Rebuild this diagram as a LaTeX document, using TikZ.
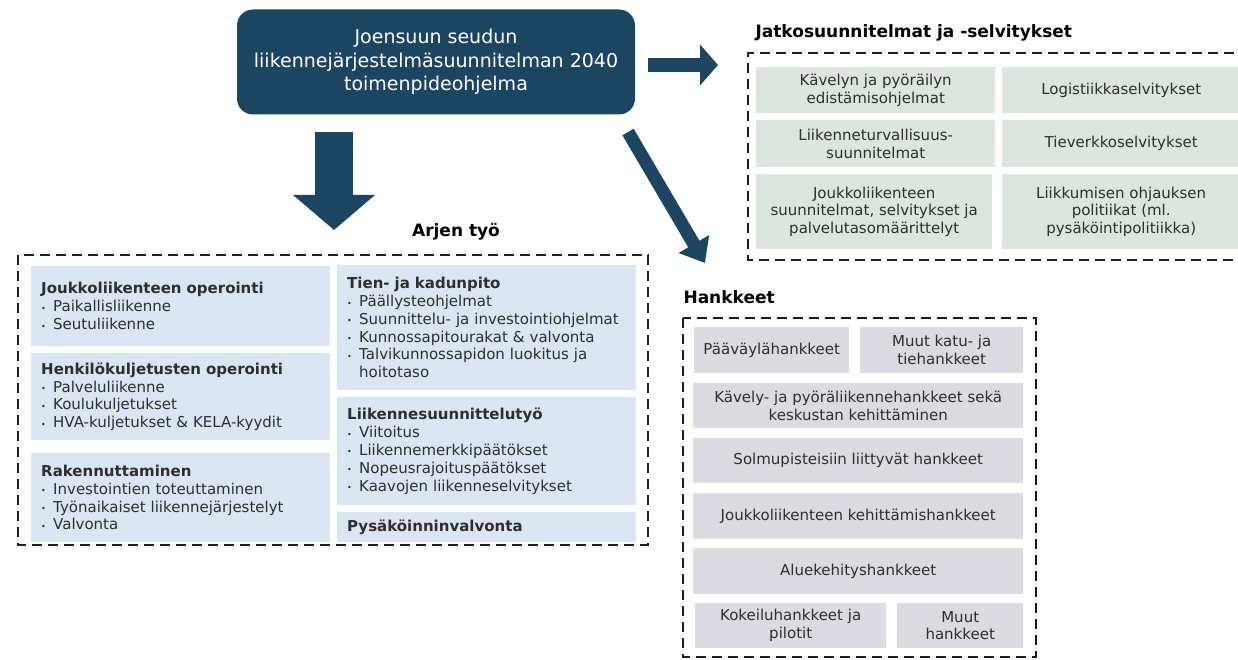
\documentclass[tikz,border=0pt]{standalone}
\usepackage{fontspec}
\setmainfont{DejaVu Sans}
\usetikzlibrary{arrows.meta}

\definecolor{darkblue}{HTML}{1B4560}
\definecolor{boxblue}{HTML}{DCE6F2}
\definecolor{boxgreen}{HTML}{DDE5DF}
\definecolor{boxgrey}{HTML}{DCDBE1}
\definecolor{txtgrey}{HTML}{2E2E2E}
\definecolor{dashgrey}{HTML}{1E1E1E}

\newcommand{\itm}{\makebox[12pt][l]{\raisebox{0.5pt}{\footnotesize\textbullet}}}
\newcommand{\ind}{\hspace*{12pt}}

\tikzset{
  topbox/.style={fill=darkblue, text=white, rounded corners=16pt, align=center,
    minimum width=398pt, minimum height=105pt,
    font=\fontsize{19}{23.5}\selectfont},
  abox/.style={fill=boxblue, text=txtgrey, anchor=north west, align=left,
    inner xsep=10pt, text width=279pt, font=\fontsize{15}{17.8}\selectfont},
  jbox/.style={fill=boxgreen, text=txtgrey, anchor=north west, align=center,
    inner sep=2pt, font=\fontsize{15}{17.8}\selectfont},
  hbox/.style={fill=boxgrey, text=txtgrey, anchor=north west, align=center,
    inner sep=2pt, font=\fontsize{15}{17.8}\selectfont},
  group/.style={draw=dashgrey, line width=2.3pt, dash pattern=on 10pt off 6pt},
  title/.style={font=\bfseries\fontsize{17}{20}\selectfont, text=black},
  bigarrow/.style={draw=darkblue, line cap=butt}
}

\begin{document}
\begin{tikzpicture}[x=1pt,y=-1pt]
  \clip (0,0) rectangle (1238,660);
  \fill[white] (0,0) rectangle (1238,660);

  % main programme
  \node[topbox] (top) at (436,62) {Joensuun seudun\\liikennejärjestelmäsuunnitelman 2040\\toimenpideohjelma};

  % Arjen tyo
  \node[title] (arjen) at (456,232) {Arjen työ};
  \draw[group] (18,255) rectangle (648,545);
  \node[abox, minimum height=80pt] (jo) at (31,266)
    {\textbf{Joukkoliikenteen operointi}\\\itm Paikallisliikenne\\\itm Seutuliikenne};
  \node[abox, minimum height=87pt] (hk) at (31,353)
    {\textbf{Henkilökuljetusten operointi}\\\itm Palveluliikenne\\\itm Koulukuljetukset\\\itm HVA-kuljetukset \& KELA-kyydit};
  \node[abox, minimum height=89pt] (rak) at (31,453)
    {\textbf{Rakennuttaminen}\\\itm Investointien toteuttaminen\\\itm Työnaikaiset liikennejärjestelyt\\\itm Valvonta};
  \node[abox, minimum height=125pt] (tie) at (337,265)
    {\textbf{Tien- ja kadunpito}\\\itm Päällysteohjelmat\\\itm Suunnittelu- ja investointiohjelmat\\\itm Kunnossapitourakat \& valvonta\\\itm Talvikunnossapidon luokitus ja\\\ind hoitotaso};
  \node[abox, minimum height=108pt] (lst) at (337,397)
    {\textbf{Liikennesuunnittelutyö}\\\itm Viitoitus\\\itm Liikennemerkkipäätökset\\\itm Nopeusrajoituspäätökset\\\itm Kaavojen liikenneselvitykset};
  \node[abox, minimum height=30pt] (pys) at (337,512)
    {\textbf{Pysäköinninvalvonta}};

  % Jatkosuunnitelmat
  \node[title, anchor=west] (jatko) at (752,33) {Jatkosuunnitelmat ja -selvitykset};
  \draw[group] (1250,53) -- (748,53) -- (748,260) -- (1250,260);
  \node[jbox, minimum width=239pt, minimum height=46pt] (kav) at (756,67)
    {Kävelyn ja pyöräilyn\\edistämisohjelmat};
  \node[jbox, minimum width=238pt, minimum height=46pt] (log) at (1002,67)
    {Logistiikkaselvitykset};
  \node[jbox, minimum width=239pt, minimum height=47pt] (tur) at (756,120)
    {Liikenneturvallisuus-\\suunnitelmat};
  \node[jbox, minimum width=238pt, minimum height=47pt] (tve) at (1002,120)
    {Tieverkkoselvitykset};
  \node[jbox, minimum width=236pt, minimum height=75pt] (jsu) at (756,174)
    {Joukkoliikenteen\\suunnitelmat, selvitykset ja\\palvelutasomäärittelyt};
  \node[jbox, minimum width=238pt, minimum height=75pt] (ohj) at (1002,174)
    {Liikkumisen ohjauksen\\politiikat (ml.\\pysäköintipolitiikka)};

  % Hankkeet
  \node[title, anchor=west] (hank) at (680,297) {Hankkeet};
  \draw[group] (683,318) rectangle (1036,657);
  \node[hbox, minimum width=155pt, minimum height=46pt] (paa) at (694,327) {Pääväylähankkeet};
  \node[hbox, minimum width=163pt, minimum height=46pt] (muk) at (860,327) {Muut katu- ja\\tiehankkeet};
  \node[hbox, minimum width=330pt, minimum height=45pt] (kpk) at (693,383)
    {Kävely- ja pyöräliikennehankkeet sekä\\keskustan kehittäminen};
  \node[hbox, minimum width=330pt, minimum height=45pt] (sol) at (693,438) {Solmupisteisiin liittyvät hankkeet};
  \node[hbox, minimum width=330pt, minimum height=46pt] (jkh) at (693,493) {Joukkoliikenteen kehittämishankkeet};
  \node[hbox, minimum width=330pt, minimum height=46pt] (alu) at (693,548) {Aluekehityshankkeet};
  \node[hbox, minimum width=191pt, minimum height=45pt] (kok) at (695,603) {Kokeiluhankkeet ja\\pilotit};
  \node[hbox, minimum width=126pt, minimum height=45pt] (muh) at (897,603) {Muut\\hankkeet};

  % arrows
  \coordinate (d0) at (334,132);
  \coordinate (d1) at (334,230);
  \coordinate (r0) at (648,65);
  \coordinate (r1) at (718,65);
  \coordinate (s0) at (628,132);
  \coordinate (s1) at (705,263);
  \draw[bigarrow, line width=38pt, -{Triangle[length=35pt,width=80pt]}] (d0) -- (d1);
  \draw[bigarrow, line width=14pt, -{Triangle[length=18pt,width=40pt]}] (r0) -- (r1);
  \draw[bigarrow, line width=13pt, -{Triangle[length=22pt,width=34pt]}] (s0) -- (s1);
\end{tikzpicture}
\end{document}
